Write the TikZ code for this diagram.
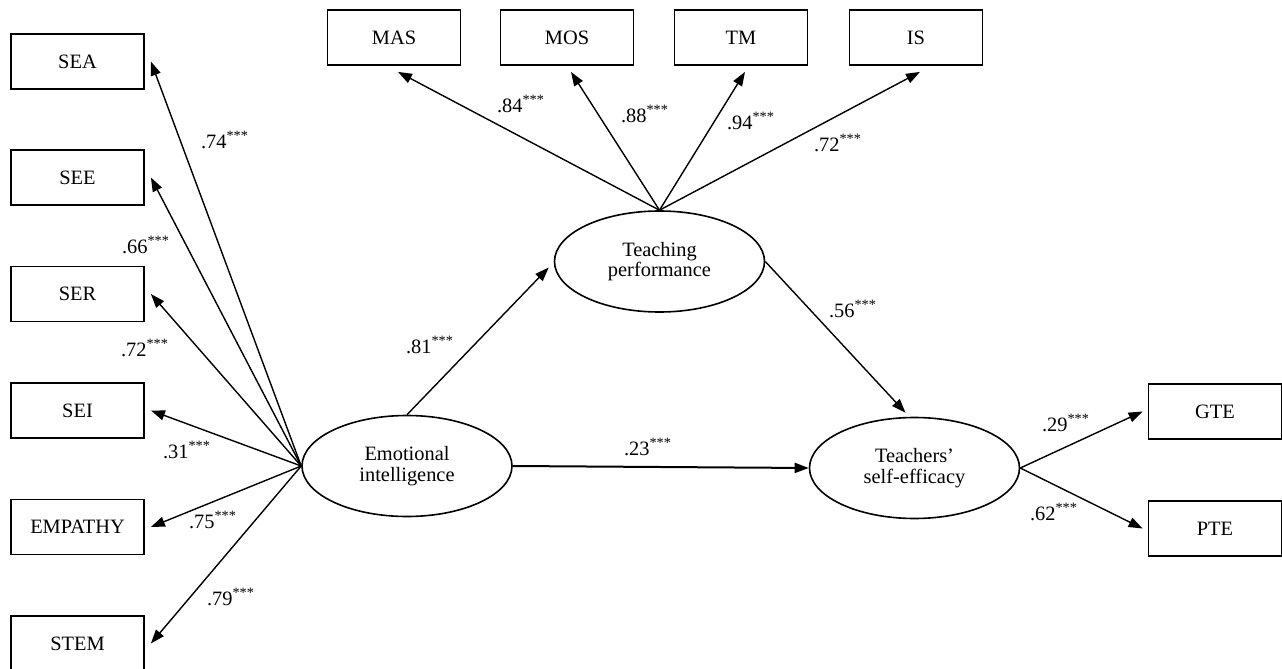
\documentclass[tikz,border=0pt]{standalone}
\usepackage{fontspec}
\setmainfont{Liberation Serif}
\usepackage{tikz}
\usetikzlibrary{shapes.geometric, arrows.meta}

\begin{document}
\begin{tikzpicture}[x=0.5pt, y=-0.5pt,
          ibox/.style={rectangle, draw, line width=0.9pt, minimum width=66.5pt,
                       minimum height=27.5pt, inner sep=0pt,
                       font=\fontsize{10.2}{10.5}\selectfont},
          lat/.style={ellipse, draw, line width=0.8pt, minimum width=105pt,
                      minimum height=50.5pt, inner sep=0pt, align=center,
                      font=\fontsize{10.2}{10.2}\selectfont},
          arr/.style={-{Triangle[length=7pt,width=5pt]}, line width=0.7pt},
          coef/.style={inner sep=0pt, font=\fontsize{10.2}{10.5}\selectfont}
        ]
        \useasboundingbox (0,0) rectangle (1282,669);

        % Latent variables
        \node[lat] (ei)  at (407,466)   {Emotional\\intelligence};
        \node[lat] (tp)  at (659.5,261.5) {Teaching\\performance};
        \node[lat] (tse) at (914.5,468) {Teachers'\\self-efficacy};

        % Emotional intelligence indicators
        \node[ibox] (sea)  at (77.5,61.5)  {SEA};
        \node[ibox] (see)  at (77.5,177.5) {SEE};
        \node[ibox] (ser)  at (77.5,294)   {SER};
        \node[ibox] (sei)  at (77.5,410.5) {SEI};
        \node[ibox] (emp)  at (77.5,527)   {EMPATHY};
        \node[ibox] (stem) at (77.5,643.5) {STEM};

        % Teaching performance indicators
        \node[ibox] (mas) at (394,37.5) {MAS};
        \node[ibox] (mos) at (567,37.5) {MOS};
        \node[ibox] (tm)  at (741,37.5) {TM};
        \node[ibox] (is)  at (916,37.5) {IS};

        % Self-efficacy indicators
        \node[ibox] (gte) at (1215,411.5) {GTE};
        \node[ibox] (pte) at (1215,528.5) {PTE};

        \foreach \n in {sea, see, ser, sei, emp, stem} {
          \draw[arr] (ei.west) -- ([xshift=3pt]\n.east);
        }
        \foreach \n in {mas, mos, tm, is} {
          \draw[arr] (tp.north) -- ([shift={(2pt,-3pt)}]\n.south);
        }
        \foreach \n in {gte, pte} {
          \draw[arr] (tse.east) -- ([xshift=-2.5pt]\n.west);
        }

        % Structural paths
        \draw[arr] (ei.north) -- ([shift={(-2.5pt,-3pt)}]tp.west);
        \draw[arr] (tp.east) -- ([shift={(-4.5pt,2pt)}]tse.north);
        \draw[arr, line width=1pt] (ei.east) -- (tse.west);

        % Loadings
        \node[coef] (c74a) at (225,140) {.74\textsuperscript{***}};
        \node[coef] (c66)  at (146,245) {.66\textsuperscript{***}};
        \node[coef] (c72a) at (145,348) {.72\textsuperscript{***}};
        \node[coef] (c31)  at (187,450) {.31\textsuperscript{***}};
        \node[coef] (c75)  at (213,520) {.75\textsuperscript{***}};
        \node[coef] (c79)  at (231,597) {.79\textsuperscript{***}};
        \node[coef] (c84)  at (521,104) {.84\textsuperscript{***}};
        \node[coef] (c88)  at (645,114) {.88\textsuperscript{***}};
        \node[coef] (c94)  at (751,121) {.94\textsuperscript{***}};
        \node[coef] (c72b) at (838,143) {.72\textsuperscript{***}};
        \node[coef] (c29)  at (1066,423) {.29\textsuperscript{***}};
        \node[coef] (c62)  at (1054,512) {.62\textsuperscript{***}};

        % Path coefficients
        \node[coef] (c81) at (430,345) {.81\textsuperscript{***}};
        \node[coef] (c56) at (853,309) {.56\textsuperscript{***}};
        \node[coef] (c23) at (648,447) {.23\textsuperscript{***}};
      \end{tikzpicture}
\end{document}
